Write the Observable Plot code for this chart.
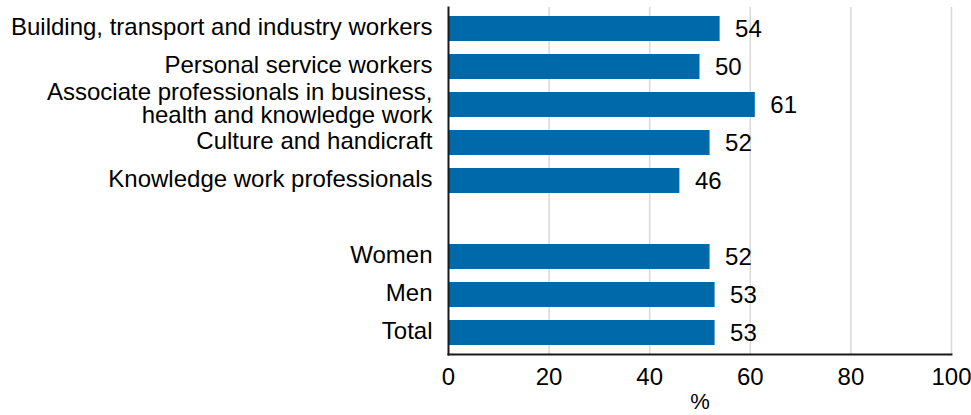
<!DOCTYPE html>
<html>
<head>
<meta charset="utf-8">
<script src="https://cdn.jsdelivr.net/npm/d3@7"></script>
<script src="https://cdn.jsdelivr.net/npm/@observablehq/plot@0.6"></script>
<style>
  html, body { margin: 0; padding: 0; background: #fff; }
  #chart svg { display: block; }
</style>
</head>
<body>
<div id="chart"></div>
<script>
const categories = [
  "Building, transport and industry workers",
  "Personal service workers",
  "Associate professionals in business,\nhealth and knowledge work",
  "Culture and handicraft",
  "Knowledge work professionals",
  " ",
  "Women",
  "Men",
  "Total"
];
const values = [54, 50, 61, 52, 46, null, 52, 53, 53];
const xTicks = [0, 20, 40, 60, 80, 100];
const gridTicks = [20, 40, 60, 80, 100];
const axisLabel = "%";

const data = categories.map((c, i) => ({category: c, value: values[i]})).filter(d => d.value != null);

const chart = Plot.plot({
  width: 971,
  height: 415,
  marginLeft: 448,
  marginRight: 20,
  marginTop: 7,
  marginBottom: 61,
  style: {fontFamily: "'Liberation Sans', Arial, sans-serif", fontSize: "24px", color: "#000", background: "#fff"},
  x: {domain: [0, 100]},
  y: {domain: categories, paddingInner: 0.33, paddingOuter: 0.165, axis: null},
  marks: [
    Plot.gridX({ticks: gridTicks, stroke: "#d9d9d9", strokeOpacity: 1, strokeWidth: 1.5}),
    Plot.barX(data, {x: "value", y: "category", fill: "#0069aa"}),
    Plot.text(data, {x: "value", y: "category", text: d => String(d.value), textAnchor: "start", dx: 15, fontSize: 24, fill: "#000"}),
    Plot.text(categories, {y: d => d, frameAnchor: "left", text: d => d, textAnchor: "end", dx: -16, dy: -1, fontSize: 24, lineHeight: 0.97, fill: "#000"}),
    Plot.axisX({ticks: xTicks, tickSize: 0, tickPadding: 13, fontSize: 24, label: null, tickFormat: d => String(d)}),
    Plot.text([axisLabel], {frameAnchor: "bottom", lineAnchor: "top", dy: 39, fontSize: 22, text: d => d, fill: "#000"}),
    Plot.frame({anchor: "left", stroke: "#1a1a1a", strokeWidth: 2}),
    Plot.frame({anchor: "bottom", stroke: "#1a1a1a", strokeWidth: 2})
  ]
});
document.getElementById("chart").appendChild(chart);
</script>
</body>
</html>
